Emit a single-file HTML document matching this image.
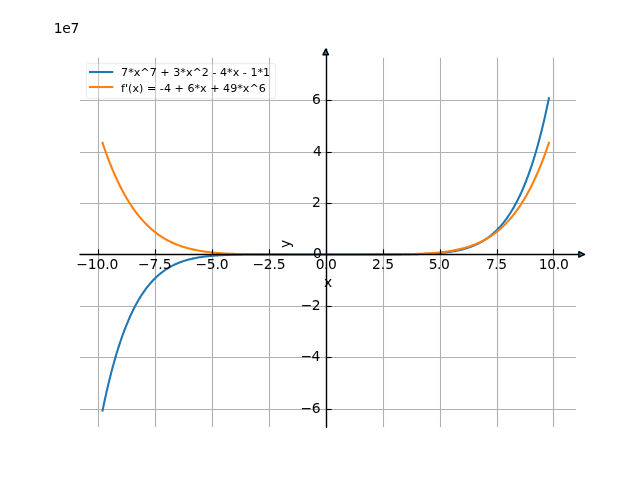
<!DOCTYPE html>
<html lang="en"><head><meta charset="utf-8"><title>plot</title>
<style>html,body{margin:0;padding:0;background:#fff;overflow:hidden}svg{display:block}</style></head>
<body>
<svg width="640" height="480" viewBox="0 0 640 480">
<defs><clipPath id="ax"><rect x="80.0" y="57.6" width="496.0" height="369.6"/></clipPath></defs>
<rect width="640" height="480" fill="#ffffff"/>
<g clip-path="url(#ax)" fill="none" stroke="#b0b0b0" stroke-width="1.111">
<path d="M98.5 427.2 V57.6"/>
<path d="M155.5 427.2 V57.6"/>
<path d="M212.5 427.2 V57.6"/>
<path d="M269.5 427.2 V57.6"/>
<path d="M326.5 427.2 V57.6"/>
<path d="M383.5 427.2 V57.6"/>
<path d="M440.5 427.2 V57.6"/>
<path d="M497.5 427.2 V57.6"/>
<path d="M553.5 427.2 V57.6"/>
<path d="M80.0 100.5 H576.0"/>
<path d="M80.0 152.5 H576.0"/>
<path d="M80.0 203.5 H576.0"/>
<path d="M80.0 254.5 H576.0"/>
<path d="M80.0 306.5 H576.0"/>
<path d="M80.0 357.5 H576.0"/>
<path d="M80.0 409.5 H576.0"/>
</g>
<g clip-path="url(#ax)" fill="none" stroke-width="2.083" stroke-linecap="square" stroke-linejoin="round">
<path stroke="#1f77b4" d="M102.55 410.59 L103.68 405.10 L104.82 399.77 L105.96 394.61 L107.10 389.60 L108.24 384.75 L109.38 380.05 L110.52 375.49 L111.65 371.08 L112.79 366.80 L113.93 362.66 L115.07 358.66 L116.21 354.78 L117.35 351.02 L118.49 347.38 L119.63 343.87 L120.76 340.46 L121.90 337.17 L123.04 333.99 L124.18 330.91 L125.32 327.94 L126.46 325.06 L127.60 322.29 L128.73 319.60 L129.87 317.01 L131.01 314.51 L132.15 312.09 L133.29 309.76 L134.43 307.51 L135.57 305.33 L136.71 303.24 L137.84 301.21 L138.98 299.27 L140.12 297.39 L141.26 295.57 L142.40 293.83 L143.54 292.15 L144.68 290.53 L145.81 288.97 L146.95 287.47 L148.09 286.02 L149.23 284.63 L150.37 283.29 L151.51 282.00 L152.65 280.77 L153.79 279.58 L154.92 278.43 L156.06 277.33 L157.20 276.28 L158.34 275.27 L159.48 274.29 L160.62 273.36 L161.76 272.46 L162.89 271.61 L164.03 270.78 L165.17 269.99 L166.31 269.23 L167.45 268.51 L168.59 267.82 L169.73 267.15 L170.87 266.51 L172.00 265.91 L173.14 265.32 L174.28 264.77 L175.42 264.23 L176.56 263.72 L177.70 263.24 L178.84 262.77 L179.97 262.33 L181.11 261.91 L182.25 261.51 L183.39 261.12 L184.53 260.75 L185.67 260.41 L186.81 260.07 L187.94 259.76 L189.08 259.46 L190.22 259.17 L191.36 258.90 L192.50 258.64 L193.64 258.39 L194.78 258.16 L195.92 257.94 L197.05 257.73 L198.19 257.53 L199.33 257.34 L200.47 257.16 L201.61 256.99 L202.75 256.83 L203.89 256.68 L205.02 256.53 L206.16 256.40 L207.30 256.27 L208.44 256.15 L209.58 256.03 L210.72 255.93 L211.86 255.83 L213.00 255.73 L214.13 255.64 L215.27 255.56 L216.41 255.48 L217.55 255.40 L218.69 255.33 L219.83 255.27 L220.97 255.20 L222.10 255.15 L223.24 255.09 L224.38 255.04 L225.52 254.99 L226.66 254.95 L227.80 254.91 L228.94 254.87 L230.08 254.83 L231.21 254.80 L232.35 254.77 L233.49 254.74 L234.63 254.71 L235.77 254.69 L236.91 254.67 L238.05 254.65 L239.18 254.63 L240.32 254.61 L241.46 254.59 L242.60 254.57 L243.74 254.56 L244.88 254.55 L246.02 254.54 L247.16 254.52 L248.29 254.51 L249.43 254.50 L250.57 254.50 L251.71 254.49 L252.85 254.48 L253.99 254.48 L255.13 254.47 L256.26 254.46 L257.40 254.46 L258.54 254.45 L259.68 254.45 L260.82 254.45 L261.96 254.44 L263.10 254.44 L264.24 254.44 L265.37 254.44 L266.51 254.43 L267.65 254.43 L268.79 254.43 L269.93 254.43 L271.07 254.43 L272.21 254.43 L273.34 254.43 L274.48 254.43 L275.62 254.42 L276.76 254.42 L277.90 254.42 L279.04 254.42 L280.18 254.42 L281.31 254.42 L282.45 254.42 L283.59 254.42 L284.73 254.42 L285.87 254.42 L287.01 254.42 L288.15 254.42 L289.29 254.42 L290.42 254.42 L291.56 254.42 L292.70 254.42 L293.84 254.42 L294.98 254.42 L296.12 254.42 L297.26 254.42 L298.39 254.42 L299.53 254.42 L300.67 254.42 L301.81 254.42 L302.95 254.42 L304.09 254.42 L305.23 254.42 L306.37 254.42 L307.50 254.42 L308.64 254.42 L309.78 254.42 L310.92 254.42 L312.06 254.42 L313.20 254.42 L314.34 254.42 L315.47 254.42 L316.61 254.42 L317.75 254.42 L318.89 254.42 L320.03 254.42 L321.17 254.42 L322.31 254.42 L323.45 254.42 L324.58 254.42 L325.72 254.42 L326.86 254.42 L328.00 254.42 L329.14 254.42 L330.28 254.42 L331.42 254.42 L332.55 254.42 L333.69 254.42 L334.83 254.42 L335.97 254.42 L337.11 254.42 L338.25 254.42 L339.39 254.42 L340.53 254.42 L341.66 254.42 L342.80 254.42 L343.94 254.42 L345.08 254.42 L346.22 254.42 L347.36 254.42 L348.50 254.42 L349.63 254.42 L350.77 254.42 L351.91 254.42 L353.05 254.42 L354.19 254.42 L355.33 254.42 L356.47 254.42 L357.61 254.42 L358.74 254.42 L359.88 254.42 L361.02 254.42 L362.16 254.42 L363.30 254.42 L364.44 254.42 L365.58 254.42 L366.71 254.42 L367.85 254.42 L368.99 254.42 L370.13 254.42 L371.27 254.42 L372.41 254.42 L373.55 254.42 L374.69 254.42 L375.82 254.42 L376.96 254.41 L378.10 254.41 L379.24 254.41 L380.38 254.41 L381.52 254.41 L382.66 254.41 L383.79 254.41 L384.93 254.41 L386.07 254.40 L387.21 254.40 L388.35 254.40 L389.49 254.40 L390.63 254.39 L391.76 254.39 L392.90 254.38 L394.04 254.38 L395.18 254.38 L396.32 254.37 L397.46 254.36 L398.60 254.36 L399.74 254.35 L400.87 254.34 L402.01 254.33 L403.15 254.33 L404.29 254.32 L405.43 254.30 L406.57 254.29 L407.71 254.28 L408.84 254.26 L409.98 254.25 L411.12 254.23 L412.26 254.21 L413.40 254.19 L414.54 254.17 L415.68 254.15 L416.82 254.12 L417.95 254.10 L419.09 254.07 L420.23 254.04 L421.37 254.00 L422.51 253.97 L423.65 253.93 L424.79 253.89 L425.92 253.85 L427.06 253.80 L428.20 253.75 L429.34 253.69 L430.48 253.64 L431.62 253.57 L432.76 253.51 L433.90 253.44 L435.03 253.36 L436.17 253.28 L437.31 253.20 L438.45 253.11 L439.59 253.01 L440.73 252.91 L441.87 252.81 L443.00 252.69 L444.14 252.57 L445.28 252.44 L446.42 252.31 L447.56 252.16 L448.70 252.01 L449.84 251.85 L450.98 251.68 L452.11 251.50 L453.25 251.31 L454.39 251.11 L455.53 250.90 L456.67 250.68 L457.81 250.45 L458.95 250.20 L460.08 249.94 L461.22 249.67 L462.36 249.38 L463.50 249.08 L464.64 248.77 L465.78 248.43 L466.92 248.08 L468.06 247.72 L469.19 247.33 L470.33 246.93 L471.47 246.51 L472.61 246.06 L473.75 245.60 L474.89 245.11 L476.03 244.61 L477.16 244.07 L478.30 243.52 L479.44 242.93 L480.58 242.32 L481.72 241.69 L482.86 241.02 L484.00 240.33 L485.13 239.60 L486.27 238.85 L487.41 238.06 L488.55 237.23 L489.69 236.37 L490.83 235.48 L491.97 234.55 L493.11 233.57 L494.24 232.56 L495.38 231.50 L496.52 230.41 L497.66 229.26 L498.80 228.07 L499.94 226.84 L501.08 225.55 L502.21 224.21 L503.35 222.82 L504.49 221.37 L505.63 219.87 L506.77 218.31 L507.91 216.69 L509.05 215.01 L510.19 213.26 L511.32 211.45 L512.46 209.57 L513.60 207.62 L514.74 205.60 L515.88 203.51 L517.02 201.33 L518.16 199.08 L519.29 196.75 L520.43 194.33 L521.57 191.83 L522.71 189.24 L523.85 186.55 L524.99 183.77 L526.13 180.90 L527.27 177.92 L528.40 174.85 L529.54 171.67 L530.68 168.37 L531.82 164.97 L532.96 161.45 L534.10 157.82 L535.24 154.06 L536.37 150.18 L537.51 146.17 L538.65 142.03 L539.79 137.76 L540.93 133.35 L542.07 128.79 L543.21 124.09 L544.35 119.23 L545.48 114.23 L546.62 109.06 L547.76 103.74 L548.90 98.24"/>
<path stroke="#ff7f0e" d="M102.55 142.87 L103.68 146.24 L104.82 149.52 L105.96 152.73 L107.10 155.85 L108.24 158.89 L109.38 161.85 L110.52 164.74 L111.65 167.55 L112.79 170.28 L113.93 172.94 L115.07 175.54 L116.21 178.06 L117.35 180.52 L118.49 182.91 L119.63 185.23 L120.76 187.50 L121.90 189.70 L123.04 191.84 L124.18 193.92 L125.32 195.94 L126.46 197.90 L127.60 199.81 L128.73 201.67 L129.87 203.47 L131.01 205.22 L132.15 206.93 L133.29 208.58 L134.43 210.18 L135.57 211.74 L136.71 213.25 L137.84 214.71 L138.98 216.14 L140.12 217.52 L141.26 218.85 L142.40 220.15 L143.54 221.41 L144.68 222.63 L145.81 223.81 L146.95 224.95 L148.09 226.06 L149.23 227.13 L150.37 228.17 L151.51 229.18 L152.65 230.15 L153.79 231.10 L154.92 232.01 L156.06 232.89 L157.20 233.74 L158.34 234.57 L159.48 235.36 L160.62 236.13 L161.76 236.88 L162.89 237.59 L164.03 238.29 L165.17 238.96 L166.31 239.60 L167.45 240.23 L168.59 240.83 L169.73 241.41 L170.87 241.97 L172.00 242.51 L173.14 243.03 L174.28 243.53 L175.42 244.01 L176.56 244.48 L177.70 244.92 L178.84 245.35 L179.97 245.77 L181.11 246.16 L182.25 246.55 L183.39 246.91 L184.53 247.27 L185.67 247.61 L186.81 247.93 L187.94 248.24 L189.08 248.54 L190.22 248.83 L191.36 249.11 L192.50 249.37 L193.64 249.63 L194.78 249.87 L195.92 250.10 L197.05 250.32 L198.19 250.54 L199.33 250.74 L200.47 250.93 L201.61 251.12 L202.75 251.30 L203.89 251.47 L205.02 251.63 L206.16 251.78 L207.30 251.93 L208.44 252.07 L209.58 252.20 L210.72 252.33 L211.86 252.45 L213.00 252.57 L214.13 252.68 L215.27 252.78 L216.41 252.88 L217.55 252.97 L218.69 253.06 L219.83 253.15 L220.97 253.23 L222.10 253.30 L223.24 253.37 L224.38 253.44 L225.52 253.51 L226.66 253.57 L227.80 253.62 L228.94 253.68 L230.08 253.73 L231.21 253.78 L232.35 253.82 L233.49 253.86 L234.63 253.90 L235.77 253.94 L236.91 253.98 L238.05 254.01 L239.18 254.04 L240.32 254.07 L241.46 254.10 L242.60 254.12 L243.74 254.15 L244.88 254.17 L246.02 254.19 L247.16 254.21 L248.29 254.23 L249.43 254.24 L250.57 254.26 L251.71 254.27 L252.85 254.28 L253.99 254.30 L255.13 254.31 L256.26 254.32 L257.40 254.33 L258.54 254.34 L259.68 254.34 L260.82 254.35 L261.96 254.36 L263.10 254.37 L264.24 254.37 L265.37 254.38 L266.51 254.38 L267.65 254.39 L268.79 254.39 L269.93 254.39 L271.07 254.40 L272.21 254.40 L273.34 254.40 L274.48 254.40 L275.62 254.41 L276.76 254.41 L277.90 254.41 L279.04 254.41 L280.18 254.41 L281.31 254.41 L282.45 254.41 L283.59 254.41 L284.73 254.42 L285.87 254.42 L287.01 254.42 L288.15 254.42 L289.29 254.42 L290.42 254.42 L291.56 254.42 L292.70 254.42 L293.84 254.42 L294.98 254.42 L296.12 254.42 L297.26 254.42 L298.39 254.42 L299.53 254.42 L300.67 254.42 L301.81 254.42 L302.95 254.42 L304.09 254.42 L305.23 254.42 L306.37 254.42 L307.50 254.42 L308.64 254.42 L309.78 254.42 L310.92 254.42 L312.06 254.42 L313.20 254.42 L314.34 254.42 L315.47 254.42 L316.61 254.42 L317.75 254.42 L318.89 254.42 L320.03 254.42 L321.17 254.42 L322.31 254.42 L323.45 254.42 L324.58 254.42 L325.72 254.42 L326.86 254.42 L328.00 254.42 L329.14 254.42 L330.28 254.42 L331.42 254.42 L332.55 254.42 L333.69 254.42 L334.83 254.42 L335.97 254.42 L337.11 254.42 L338.25 254.42 L339.39 254.42 L340.53 254.42 L341.66 254.42 L342.80 254.42 L343.94 254.42 L345.08 254.42 L346.22 254.42 L347.36 254.42 L348.50 254.42 L349.63 254.42 L350.77 254.42 L351.91 254.42 L353.05 254.42 L354.19 254.42 L355.33 254.42 L356.47 254.42 L357.61 254.42 L358.74 254.42 L359.88 254.42 L361.02 254.42 L362.16 254.42 L363.30 254.42 L364.44 254.42 L365.58 254.42 L366.71 254.42 L367.85 254.41 L368.99 254.41 L370.13 254.41 L371.27 254.41 L372.41 254.41 L373.55 254.41 L374.69 254.41 L375.82 254.41 L376.96 254.40 L378.10 254.40 L379.24 254.40 L380.38 254.40 L381.52 254.39 L382.66 254.39 L383.79 254.39 L384.93 254.38 L386.07 254.38 L387.21 254.37 L388.35 254.37 L389.49 254.36 L390.63 254.35 L391.76 254.34 L392.90 254.34 L394.04 254.33 L395.18 254.32 L396.32 254.31 L397.46 254.30 L398.60 254.28 L399.74 254.27 L400.87 254.26 L402.01 254.24 L403.15 254.23 L404.29 254.21 L405.43 254.19 L406.57 254.17 L407.71 254.15 L408.84 254.12 L409.98 254.10 L411.12 254.07 L412.26 254.04 L413.40 254.01 L414.54 253.98 L415.68 253.94 L416.82 253.90 L417.95 253.86 L419.09 253.82 L420.23 253.78 L421.37 253.73 L422.51 253.68 L423.65 253.62 L424.79 253.57 L425.92 253.51 L427.06 253.44 L428.20 253.37 L429.34 253.30 L430.48 253.23 L431.62 253.15 L432.76 253.06 L433.90 252.97 L435.03 252.88 L436.17 252.78 L437.31 252.68 L438.45 252.57 L439.59 252.45 L440.73 252.33 L441.87 252.20 L443.00 252.07 L444.14 251.93 L445.28 251.78 L446.42 251.63 L447.56 251.47 L448.70 251.30 L449.84 251.12 L450.98 250.93 L452.11 250.74 L453.25 250.54 L454.39 250.32 L455.53 250.10 L456.67 249.87 L457.81 249.63 L458.95 249.37 L460.08 249.11 L461.22 248.83 L462.36 248.54 L463.50 248.24 L464.64 247.93 L465.78 247.61 L466.92 247.27 L468.06 246.91 L469.19 246.55 L470.33 246.16 L471.47 245.77 L472.61 245.35 L473.75 244.92 L474.89 244.48 L476.03 244.01 L477.16 243.53 L478.30 243.03 L479.44 242.51 L480.58 241.97 L481.72 241.41 L482.86 240.83 L484.00 240.23 L485.13 239.60 L486.27 238.96 L487.41 238.29 L488.55 237.59 L489.69 236.88 L490.83 236.13 L491.97 235.36 L493.11 234.57 L494.24 233.74 L495.38 232.89 L496.52 232.01 L497.66 231.10 L498.80 230.15 L499.94 229.18 L501.08 228.17 L502.21 227.13 L503.35 226.06 L504.49 224.95 L505.63 223.81 L506.77 222.63 L507.91 221.41 L509.05 220.15 L510.19 218.85 L511.32 217.52 L512.46 216.14 L513.60 214.71 L514.74 213.25 L515.88 211.74 L517.02 210.18 L518.16 208.58 L519.29 206.93 L520.43 205.22 L521.57 203.47 L522.71 201.67 L523.85 199.81 L524.99 197.90 L526.13 195.94 L527.27 193.92 L528.40 191.84 L529.54 189.70 L530.68 187.50 L531.82 185.23 L532.96 182.91 L534.10 180.52 L535.24 178.06 L536.37 175.54 L537.51 172.94 L538.65 170.28 L539.79 167.54 L540.93 164.74 L542.07 161.85 L543.21 158.89 L544.35 155.85 L545.48 152.73 L546.62 149.52 L547.76 146.24 L548.90 142.87"/>
</g>
<g stroke="#000000" stroke-linejoin="round" stroke-linecap="round">
<g fill="none" stroke-width="1.111" stroke-linecap="butt">
<path d="M98.5 254.50 V249.36"/>
<path d="M155.5 254.50 V249.36"/>
<path d="M212.5 254.50 V249.36"/>
<path d="M269.5 254.50 V249.36"/>
<path d="M326.5 254.50 V249.36"/>
<path d="M383.5 254.50 V249.36"/>
<path d="M440.5 254.50 V249.36"/>
<path d="M497.5 254.50 V249.36"/>
<path d="M553.5 254.50 V249.36"/>
</g>
<path fill="none" stroke-width="1.389" d="M80.0 254.5 H584.45"/>
<path fill="#1f77b4" stroke-width="1.389" d="M578.89 251.64 L584.45 254.42 L578.89 257.20 Z"/>
<g fill="none" stroke-width="1.111" stroke-linecap="butt">
<path d="M326.5 100.5 H331.68"/>
<path d="M326.5 152.5 H331.68"/>
<path d="M326.5 203.5 H331.68"/>
<path d="M326.5 254.5 H331.68"/>
<path d="M326.5 306.5 H331.68"/>
<path d="M326.5 357.5 H331.68"/>
<path d="M326.5 409.5 H331.68"/>
</g>
<path fill="none" stroke-width="1.389" d="M326.5 427.2 V49.15"/>
<path fill="#1f77b4" stroke-width="1.389" d="M322.94 54.71 L325.72 49.15 L328.50 54.71 Z"/>
</g>
<g font-family="'DejaVu Sans', sans-serif" font-size="13.889" fill="#000000">
<text text-anchor="middle" letter-spacing="-0.10" x="97.19" y="269.43">−10.0</text>
<text text-anchor="middle" letter-spacing="-0.10" x="154.72" y="269.43">−7.5</text>
<text text-anchor="middle" letter-spacing="-0.20" x="211.86" y="269.43">−5.0</text>
<text text-anchor="middle" letter-spacing="-0.20" x="268.89" y="269.43">−2.5</text>
<text text-anchor="middle" letter-spacing="-0.50" x="326.02" y="269.43">0.0</text>
<text text-anchor="middle" letter-spacing="0.00" x="383.06" y="269.43">2.5</text>
<text text-anchor="middle" letter-spacing="-0.50" x="438.99" y="269.43">5.0</text>
<text text-anchor="middle" letter-spacing="-0.40" x="496.32" y="269.43">7.5</text>
<text text-anchor="middle" letter-spacing="-0.30" x="553.65" y="269.43">10.0</text>
<text text-anchor="middle" x="328.00" y="287.13">x</text>
<text text-anchor="end" letter-spacing="0.00" x="320.86" y="104.05">6</text>
<text text-anchor="end" letter-spacing="0.00" x="321.76" y="156.25">4</text>
<text text-anchor="end" letter-spacing="0.00" x="320.86" y="206.85">2</text>
<text text-anchor="end" letter-spacing="0.00" x="321.86" y="258.25">0</text>
<text text-anchor="end" letter-spacing="-0.50" x="320.16" y="309.65">−2</text>
<text text-anchor="end" letter-spacing="-0.40" x="320.06" y="361.05">−4</text>
<text text-anchor="end" letter-spacing="-0.20" x="320.46" y="413.35">−6</text>
<text text-anchor="end" letter-spacing="-0.35" x="79.00" y="33.18">1e7</text>
<text text-anchor="middle" x="290.05" y="243.90" transform="rotate(-90 290.05 243.90)">y</text>
</g>
<path d="M88.72 98.50 H273.28 Q275.50 98.50 275.50 96.28 V65.72 Q275.50 63.50 273.28 63.50 H88.72 Q86.50 63.50 86.50 65.72 V96.28 Q86.50 98.50 88.72 98.50 Z" fill="#ffffff" fill-opacity="0.3" stroke="#cccccc" stroke-opacity="0.3" stroke-width="1.389" stroke-linejoin="miter"/>
<path d="M90.00 72.00 H112.22" stroke="#1f77b4" stroke-width="2.083" stroke-linecap="square" fill="none"/>
<path d="M90.00 87.00 H112.22" stroke="#ff7f0e" stroke-width="2.083" stroke-linecap="square" fill="none"/>
<g font-family="'DejaVu Sans', sans-serif" font-size="11.111" fill="#000000">
<text letter-spacing="0.020" x="121.11" y="75.54">7*x^7 + 3*x^2 - 4*x - 1*1</text>
<text letter-spacing="0.020" x="121.11" y="91.55">f'(x) = -4 + 6*x + 49*x^6</text>
</g>
</svg>
</body></html>
